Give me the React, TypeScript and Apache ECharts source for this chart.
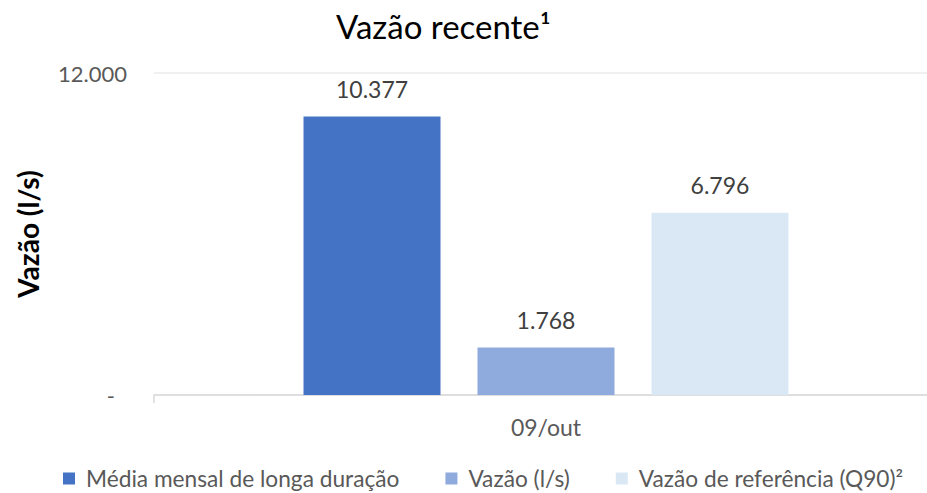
import React, { useEffect, useRef } from 'react';
import * as echarts from 'echarts';

const categories = ['09/out'];
const seriesNames = ['Média mensal de longa duração', 'Vazão (l/s)', 'Vazão de referência (Q90)²'];
const mediaMensal = [10377];
const vazao = [1768];
const vazaoReferencia = [6796];
const seriesColors = ['#4472C4', '#8FAADC', '#DAE8F5'];
const yMin = 0;
const yMax = 12000;

const FONT = 'Lato';

const fmt = (v: number) =>
  v === 0 ? '{d|-}' : String(Math.round(v)).replace(/\B(?=(\d{3})+(?!\d))/g, '.');

export default function App() {
  const ref = useRef<HTMLDivElement>(null);
  useEffect(() => {
    if (!ref.current) return;
    const chart = echarts.init(ref.current, null, { renderer: 'svg' });
    const values = [mediaMensal, vazao, vazaoReferencia];
    chart.setOption({
      animation: false,
      textStyle: { fontFamily: FONT },
      title: {
        text: 'Vazão recente¹',
        left: 331,
        top: 4,
        textStyle: { fontFamily: FONT, fontSize: 33, fontWeight: 'normal', color: '#000000' },
      },
      legend: {
        left: 63,
        top: 467,
        padding: 0,
        icon: 'rect',
        itemWidth: 12,
        itemHeight: 12,
        itemGap: 46,
        data: seriesNames,
        textStyle: { fontFamily: FONT, fontSize: 22.7, color: '#595959', padding: [0, 0, 0, 6] },
      },
      grid: { left: 154, top: 73, width: 784, height: 322, containLabel: false },
      xAxis: {
        type: 'category',
        data: categories,
        axisLine: { lineStyle: { color: '#d9d9d9', width: 1.5 } },
        axisTick: { show: true, length: 8, lineStyle: { color: '#d9d9d9', width: 1.5 } },
        axisLabel: { margin: 20, fontSize: 23, color: '#595959', fontFamily: FONT },
      },
      yAxis: {
        type: 'value',
        min: yMin,
        max: yMax,
        interval: yMax - yMin,
        name: 'Vazão (l/s)',
        nameLocation: 'middle',
        nameGap: 112,
        nameTextStyle: { fontFamily: FONT, fontSize: 28, fontWeight: 'bold', color: '#000000' },
        axisLine: { show: false },
        axisTick: { show: false },
        splitLine: { lineStyle: { color: '#ebebeb', width: 1.5 } },
        axisLabel: {
          margin: 27,
          fontSize: 22,
          color: '#595959',
          fontFamily: FONT,
          formatter: (v: number) => fmt(v),
          rich: { d: { fontSize: 22, color: '#595959', padding: [0, 12, 0, 0] } },
        },
      },
      series: seriesNames.map((name, i) => ({
        name,
        type: 'bar',
        data: values[i],
        barWidth: 137,
        barGap: '27%',
        itemStyle: { color: seriesColors[i] },
        label: {
          show: true,
          position: 'top',
          distance: 16,
          fontSize: 23,
          color: '#404040',
          fontFamily: FONT,
          formatter: (p: any) => fmt(p.value),
        },
      })),
    });
    return () => chart.dispose();
  }, []);
  return (
    <div style={{ position: 'fixed', left: 0, top: 0, width: 927, height: 493, overflow: 'hidden', background: '#ffffff' }}>
      <div ref={ref} style={{ width: 950, height: 493 }} />
    </div>
  );
}
